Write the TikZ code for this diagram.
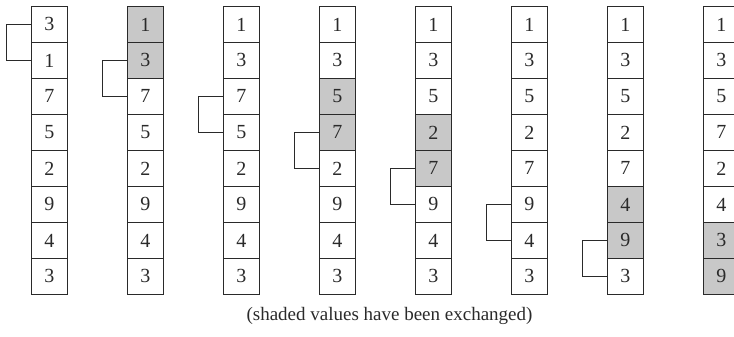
\documentclass[tikz,border=0pt]{standalone}
\usepackage{fontspec}
\setmainfont{Liberation Serif}
\definecolor{shade}{HTML}{C8C8C8}
\definecolor{ink}{HTML}{2A2A2A}
\begin{document}
\begin{tikzpicture}[x=1pt,y=-1pt,
  cell/.style={draw=ink,line width=0.9pt,minimum width=36pt,minimum height=36pt,inner sep=0pt,anchor=north west,font=\fontsize{20}{20}\selectfont,text=ink},
  shaded/.style={fill=shade},
  bracket/.style={draw=ink,line width=0.9pt},
  caption/.style={font=\fontsize{19}{19}\selectfont,text=ink}]
\useasboundingbox (0,0) rectangle (734,337);
\clip (0,0) rectangle (734,337);
% columns: values / shaded rows / bracket top row (-1 = none)
\foreach \k/\vals/\sh/\br in {
  0/{3,1,7,5,2,9,4,3}/{}/0,
  1/{1,3,7,5,2,9,4,3}/{0,1}/1,
  2/{1,3,7,5,2,9,4,3}/{}/2,
  3/{1,3,5,7,2,9,4,3}/{2,3}/3,
  4/{1,3,5,2,7,9,4,3}/{3,4}/4,
  5/{1,3,5,2,7,9,4,3}/{}/5,
  6/{1,3,5,2,7,4,9,3}/{5,6}/6,
  7/{1,3,5,7,2,4,3,9}/{6,7}/-1}{
  \foreach \v [count=\i from 0] in \vals {
    \def\isshaded{0}
    \foreach \s in \sh {\ifnum\s=\i\relax\xdef\isshaded{1}\fi}
    \ifnum\isshaded=1\relax
      \node[cell,shaded] (c-\k-\i) at ({31+96*\k},{6+36*\i}) {\v};
    \else
      \node[cell] (c-\k-\i) at ({31+96*\k},{6+36*\i}) {\v};
    \fi
  }
  \ifnum\br>-1\relax
    \pgfmathtruncatemacro{\nx}{\br+1}
    \draw[bracket] (c-\k-\br.west) -- ++(-25,0) |- (c-\k-\nx.west);
  \fi
}
\node[caption] (cap) at (389.5,316) {(shaded values have been exchanged)};
\end{tikzpicture}
\end{document}
